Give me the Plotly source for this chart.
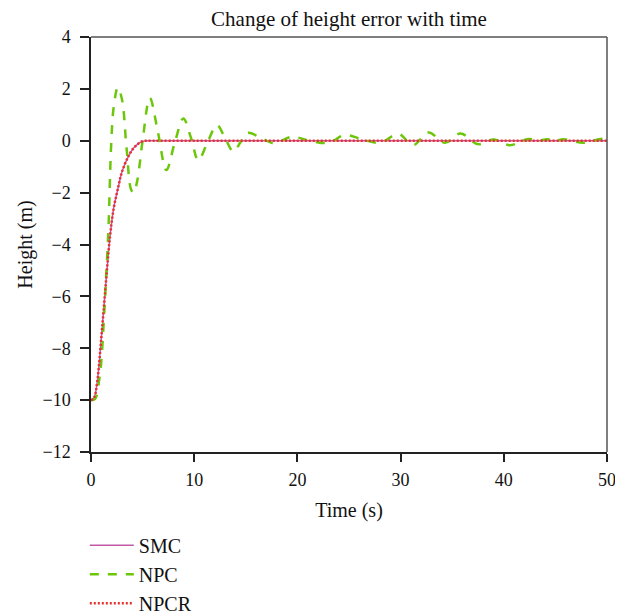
import plotly.graph_objects as go

# SMC / NPCR response (nearly identical)
smc_t = [0, 0.3, 0.6, 1.0, 1.2, 1.5, 1.84, 2.2, 2.65, 3.0, 3.6, 4.2, 5.0, 6.0, 10, 20, 30, 40, 50]
smc_y = [-10, -9.9, -9.3, -7.6, -6.65, -5.2, -3.7, -2.6, -1.77, -1.2, -0.62, -0.25, -0.02, 0, 0, 0, 0, 0, 0]

npcr_t = smc_t
npcr_y = smc_y

# NPC response (oscillating)
npc_t = [0, 0.4, 0.8, 1.0, 1.3, 1.5, 1.7, 1.95, 2.2, 2.6, 3.0, 3.45, 3.9, 4.15, 4.5, 5.0,
         5.7, 6.5, 7.3, 8.1, 8.95, 9.7, 10.4, 11.3, 12.2, 13.0, 13.8, 14.5, 15.2, 16.5,
         17.8, 19.45, 21.2, 23.0, 24.6, 26.3, 28.0, 29.8, 31.2, 32.7, 34.3, 35.8, 37.5,
         39.0, 40.6, 42.4, 43.3, 44.2, 45.0, 45.8, 47.7, 49.5, 50]
npc_y = [-10, -9.95, -9.2, -8.5, -6.5, -5.0, -3.3, -0.2, 1.3, 2.05, 1.6, -0.3, -1.9, -2.0, -1.5, 0.0,
         1.65, 0.3, -1.13, -0.1, 0.86, 0.1, -0.75, -0.05, 0.6, 0.1, -0.42, -0.05, 0.3, 0.1,
         -0.1, 0.15, 0.0, -0.08, 0.22, 0.05, -0.08, 0.26, -0.17, 0.32, -0.08, 0.28, -0.13,
         0.05, -0.17, 0.07, 0.0, 0.06, 0.0, 0.06, -0.08, 0.08, 0.05]

x_ticks = [0, 10, 20, 30, 40, 50]
y_ticks = [4, 2, 0, -2, -4, -6, -8, -10, -12]

FONT = "Liberation Serif"

fig = go.Figure()
fig.add_trace(go.Scatter(x=smc_t, y=smc_y, mode="lines", name="SMC", line_shape="spline",
                         line=dict(color="#c25aa8", width=1.5)))
fig.add_trace(go.Scatter(x=npc_t, y=npc_y, mode="lines", name="NPC", line_shape="spline",
                         line=dict(color="#6cc70a", width=2.5, dash="9px,9px")))
fig.add_trace(go.Scatter(x=npcr_t, y=npcr_y, mode="lines", name="NPCR", line_shape="spline",
                         line=dict(color="#e8302c", width=2.5, dash="2px,2px")))

fig.update_layout(
    width=615, height=608,
    margin=dict(l=83, r=16, t=29, b=164, autoexpand=False),
    paper_bgcolor="white", plot_bgcolor="white",
    font=dict(family=FONT, size=18, color="#111"),
    title=dict(text="Change of height error with time", x=0.5, xref="paper", xanchor="center",
               y=0.983, yref="container", yanchor="middle",
               font=dict(family=FONT, size=21, color="#111")),
    showlegend=True,
    legend=dict(x=-0.012, y=-0.178, xanchor="left", yanchor="top", orientation="v",
                font=dict(family=FONT, size=20, color="#111"), tracegroupgap=0,
                itemwidth=44, bgcolor="rgba(0,0,0,0)"),
    xaxis=dict(range=[0, 50], tickvals=x_ticks, showgrid=False, zeroline=False,
               showline=True, linecolor="#222", linewidth=1.5, ticks="outside",
               ticklen=8, tickcolor="#222", tickwidth=1.5, tickfont=dict(size=18),
               ticklabelstandoff=3, automargin=False,
               title=dict(text="Time (s)", standoff=14, font=dict(family=FONT, size=20))),
    yaxis=dict(range=[-12, 4], tickvals=y_ticks, showgrid=False, zeroline=False,
               showline=True, linecolor="#222", linewidth=1.5, ticks="outside",
               ticklen=9, tickcolor="#222", tickwidth=1.5, tickfont=dict(size=18),
               ticklabelstandoff=6, automargin=False,
               title=dict(text="Height (m)", standoff=4, font=dict(family=FONT, size=20))),
    shapes=[
        dict(type="line", xref="paper", yref="paper", x0=0, x1=1, y0=1, y1=1,
             line=dict(color="#555", width=1.5)),
        dict(type="line", xref="paper", yref="paper", x0=1, x1=1, y0=0, y1=1,
             line=dict(color="#555", width=1.5)),
    ],
)

fig.write_html("out.html")
